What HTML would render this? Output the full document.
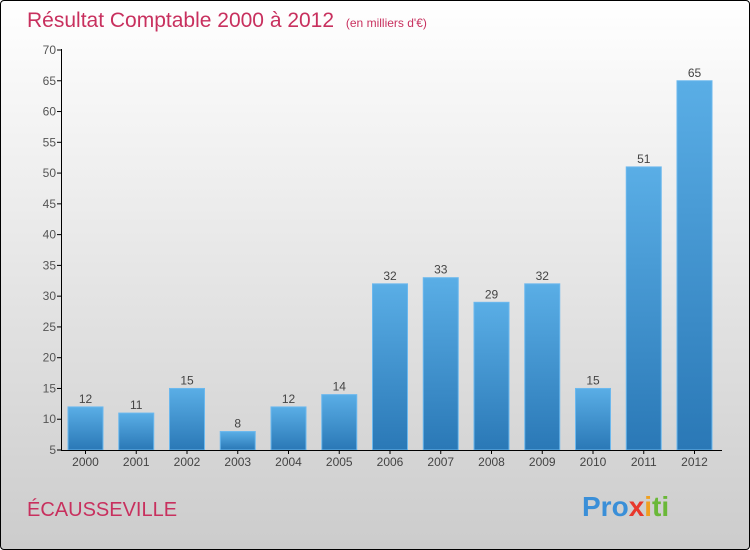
<!DOCTYPE html>
<html><head><meta charset="utf-8"><style>
body{margin:0;width:750px;height:550px;overflow:hidden;font-family:"Liberation Sans",sans-serif}
#frame{position:absolute;left:0;top:0;width:748px;height:548px;border:1px solid #000;border-radius:4px;background:linear-gradient(#ffffff,#cccccc)}
</style></head><body>
<div id="frame">
<svg width="750" height="550" style="position:absolute;left:-1px;top:-1px">
<defs><linearGradient id="bg" x1="0" y1="0" x2="0" y2="1"><stop offset="0" stop-color="#5aaee6"/><stop offset="1" stop-color="#2a78b6"/></linearGradient></defs>
<text x="27" y="27" font-size="21" fill="#c8305e">Résultat Comptable 2000 à 2012 <tspan font-size="12" dx="6">(en milliers d'€)</tspan></text>
<g id="plot"></g>
<text x="27" y="516" font-size="20" fill="#c8305e">ÉCAUSSEVILLE</text>
<text x="582" y="516" font-size="28" font-weight="bold"><tspan fill="#3a8fd8">Pro</tspan><tspan fill="#e8382c">x</tspan><tspan fill="#f0a020">i</tspan><tspan fill="#6ab838">ti</tspan></text>
</svg></div>
<script>
const years=["2000","2001","2002","2003","2004","2005","2006","2007","2008","2009","2010","2011","2012"];
const values=[12,11,15,8,12,14,32,33,29,32,15,51,65];
const ticks=[5,10,15,20,25,30,35,40,45,50,55,60,65,70];
const NS="http://www.w3.org/2000/svg";
const g=document.getElementById('plot');
const y=v=>450-(v-5)*400/65;
const xc=i=>85.5+i*50.75;
function mk(t,a){const e=document.createElementNS(NS,t);for(const k in a)e.setAttribute(k,a[k]);g.appendChild(e);return e;}
ticks.forEach(t=>{
 const l=mk('line',{x1:57,x2:62,y1:y(t),y2:y(t),stroke:'#000'});
 
 
 const tx=mk('text',{x:56,y:y(t)+4,'font-size':12,fill:'#555','text-anchor':'end'});tx.textContent=t;
 
 
});
years.forEach((yr,i)=>{
 const v=values[i];
 const r=mk('rect',{x:xc(i)-17.5,y:y(v),width:35,height:450-y(v),fill:'url(#bg)',stroke:'#6bb8ee','stroke-width':1});
 
 
 const vl=mk('text',{x:xc(i),y:y(v)-4,'font-size':12,fill:'#444','text-anchor':'middle'});vl.textContent=v;
 
 
 mk('line',{x1:xc(i),x2:xc(i),y1:450,y2:454,stroke:'#000'});
 const xl=mk('text',{x:xc(i),y:466,'font-size':12,fill:'#444','text-anchor':'middle'});xl.textContent=yr;
 
 
});
const ya=mk('line',{x1:61.5,x2:61.5,y1:49,y2:450,stroke:'#000'});


const xa=mk('line',{x1:61,x2:722,y1:450.5,y2:450.5,stroke:'#000'});


</script>
</body></html>
